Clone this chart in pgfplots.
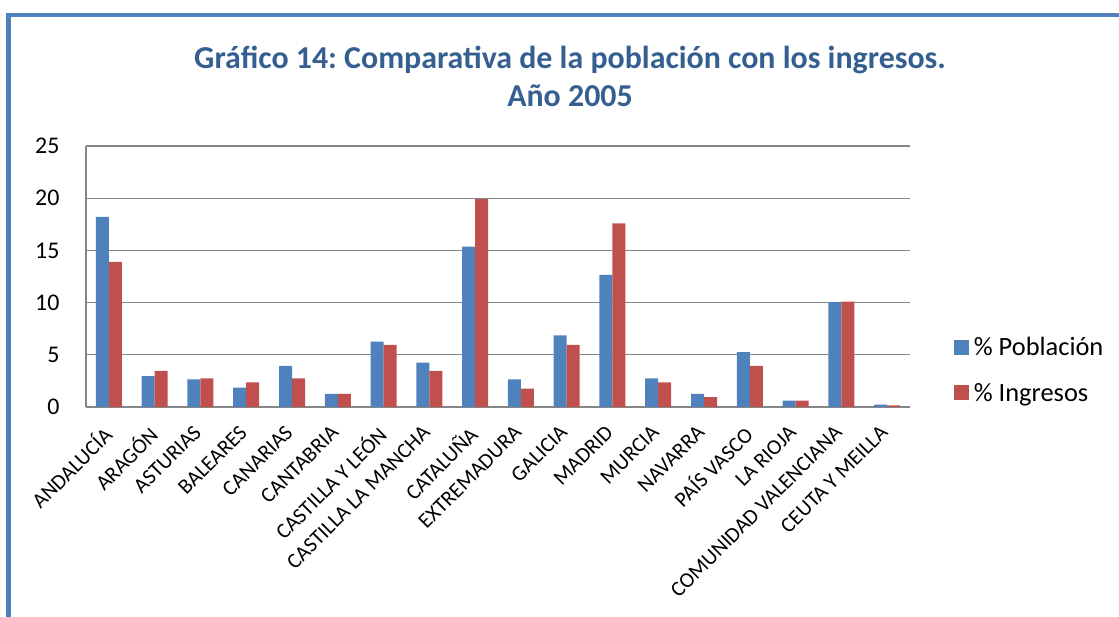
\documentclass[border=0pt]{standalone}
\usepackage{pgfplots}
\pgfplotsset{compat=1.18}
\usepackage{fontspec}
\setmainfont{Carlito}
\frenchspacing
\definecolor{xlblue}{HTML}{4F81BD}
\definecolor{xlred}{HTML}{C0504D}
\definecolor{titleblue}{HTML}{365F91}
\definecolor{gridgray}{HTML}{868686}
\pgfplotstableread{
x pob ing
0 18.2 13.9
1 2.95 3.45
2 2.65 2.75
3 1.85 2.35
4 3.95 2.75
5 1.25 1.25
6 6.25 5.95
7 4.25 3.45
8 15.35 19.9
9 2.65 1.75
10 6.85 5.95
11 12.65 17.6
12 2.75 2.35
13 1.25 0.95
14 5.25 3.95
15 0.62 0.62
16 10.05 10.1
17 0.22 0.15
}\datatable
\begin{document}
\begin{tikzpicture}[x=1bp,y=1bp]
\useasboundingbox (-86,-210) rectangle (1033,407);
\draw[xlblue, line width=4.5bp, line join=miter] (-77.7,-215) -- (-77.7,392) -- (1040,392);
\node[font=\bfseries\fontsize{32}{38}\selectfont, text=titleblue, align=center] at (484,331) {Gráfico 14: Comparativa de la población con los ingresos.\\Año 2005};
\begin{axis}[
  at={(0,0)}, anchor=south west,
  scale only axis, width=824bp, height=261bp,
  ybar=0pt, bar width=13bp,
  xmin=-0.5, xmax=17.5, ymin=0, ymax=25,
  ytick={0,5,...,25},
  xtick=data,
  xticklabels={ANDALUCÍA,ARAGÓN,ASTURIAS,BALEARES,CANARIAS,CANTABRIA,CASTILLA Y LEÓN,CASTILLA LA MANCHA,CATALUÑA,EXTREMADURA,GALICIA,MADRID,MURCIA,NAVARRA,PAÍS VASCO,LA RIOJA,COMUNIDAD VALENCIANA,CEUTA Y MEILLA},
  xticklabel style={xshift=-8bp, yshift=-17bp, rotate=45, anchor=north east, font=\fontsize{21.5}{24}\selectfont, inner sep=0pt},
  yticklabel style={font=\fontsize{24}{26}\selectfont},
  /pgf/number format/assume math mode=true,
  ymajorgrids,
  grid style={gridgray, line width=1.2bp},
  axis x line*=bottom, axis y line*=left,
  axis line style={gridgray, line width=1.2bp, -},
  major tick length=0pt,
  ytick style={draw=none}, xtick style={draw=none},
  yticklabel shift=23bp,
  legend style={at={(1.053,0.142)}, anchor=west, draw=none, fill=none,
    font=\fontsize{26.5}{30}\selectfont, inner xsep=0pt, row sep=22bp,
    legend cell align=left, nodes={inner xsep=5bp}},
  legend image code/.code={\fill[#1] (0bp,-7.5bp) rectangle (15bp,7.5bp);},
]
\addplot[fill=xlblue, draw=none] table[x=x,y=pob]{\datatable};
\addplot[fill=xlred, draw=none] table[x=x,y=ing]{\datatable};
\legend{\% Población,\% Ingresos}
\end{axis}
\end{tikzpicture}
\end{document}
